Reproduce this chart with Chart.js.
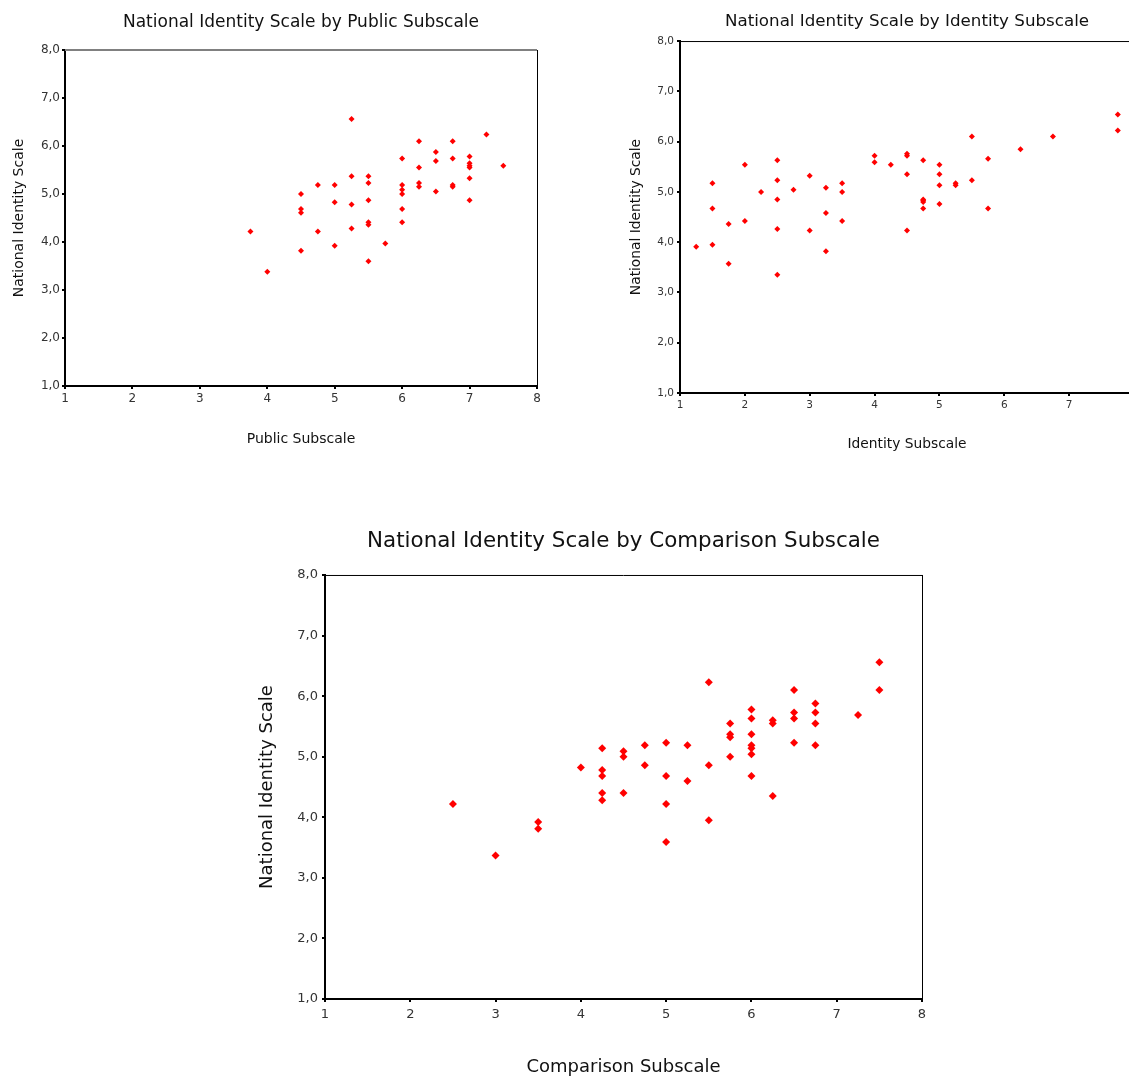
<!DOCTYPE html>
<html>
<head>
<meta charset="utf-8">
<script src="https://cdn.jsdelivr.net/npm/chart.js@4.4.1/dist/chart.umd.min.js"></script>
<style>
  html, body { margin:0; padding:0; background:#fff; overflow:hidden; width:1129px; height:1077px; }
  canvas { position:absolute; }
</style>
</head>
<body>
<canvas id="c1" width="580" height="470" style="left:0px;top:0px;"></canvas>
<canvas id="c2" width="540" height="470" style="left:620px;top:0px;"></canvas>
<canvas id="c3" width="700" height="580" style="left:250px;top:520px;"></canvas>
<script>
// ---------- data ----------
const yAxisTitle = "National Identity Scale";
const titles = [
  "National Identity Scale by Public Subscale",
  "National Identity Scale by Identity Subscale",
  "National Identity Scale by Comparison Subscale"
];
const xAxisTitles = ["Public Subscale", "Identity Subscale", "Comparison Subscale"];
const xTicks = [1, 2, 3, 4, 5, 6, 7, 8];
const yTicks = [1, 2, 3, 4, 5, 6, 7, 8];

const publicX = [3.75, 4, 4.5, 4.5, 4.5, 4.5, 4.75, 4.75, 5, 5, 5, 5.25, 5.25, 5.25, 5.25,
  5.5, 5.5, 5.5, 5.5, 5.5, 5.5, 5.75, 6, 6, 6, 6, 6, 6, 6.25, 6.25, 6.25, 6.25,
  6.5, 6.5, 6.5, 6.75, 6.75, 6.75, 6.75, 7, 7, 7, 7, 7, 7, 7.25, 7.5];
const publicY = [4.22, 3.38, 5.0, 4.69, 4.61, 3.82, 5.19, 4.22, 5.19, 4.83, 3.92, 6.56, 5.37, 4.78, 4.28,
  5.37, 5.23, 4.87, 4.41, 4.36, 3.60, 3.97, 5.74, 5.19, 5.09, 5.0, 4.69, 4.41, 6.10, 5.55, 5.23, 5.15,
  5.875, 5.69, 5.05, 6.10, 5.74, 5.19, 5.15, 5.78, 5.64, 5.59, 5.55, 5.33, 4.87, 6.24, 5.59];

const identityX = [1.25, 1.5, 1.5, 1.5, 1.75, 1.75, 2, 2, 2.25, 2.5, 2.5, 2.5, 2.5, 2.5,
  2.75, 3, 3, 3.25, 3.25, 3.25, 3.5, 3.5, 3.5, 4, 4, 4.25, 4.5, 4.5, 4.5, 4.5,
  4.75, 4.75, 4.75, 4.75, 4.75, 5, 5, 5, 5, 5.25, 5.25, 5.5, 5.5, 5.75, 5.75,
  6.25, 6.75, 7.75, 7.75];
const identityY = [3.91, 5.17, 4.67, 3.95, 4.36, 3.57, 5.54, 4.42, 5.0, 5.63, 5.23, 4.85, 4.26, 3.35,
  5.04, 5.32, 4.23, 5.08, 4.58, 3.82, 5.17, 5.0, 4.42, 5.72, 5.59, 5.54, 5.76, 5.72, 5.35, 4.23,
  5.63, 4.85, 4.83, 4.80, 4.67, 5.54, 5.35, 5.13, 4.76, 5.17, 5.13, 6.10, 5.23, 5.66, 4.67,
  5.85, 6.10, 6.54, 6.22];

const comparisonX = [2.5, 3, 3.5, 3.5, 4, 4.25, 4.25, 4.25, 4.25, 4.25, 4.5, 4.5, 4.5,
  4.75, 4.75, 5, 5, 5, 5, 5.25, 5.25, 5.5, 5.5, 5.5, 5.75, 5.75, 5.75, 5.75,
  6, 6, 6, 6, 6, 6, 6, 6.25, 6.25, 6.25, 6.5, 6.5, 6.5, 6.5, 6.75, 6.75, 6.75, 6.75,
  7.25, 7.5, 7.5];
const comparisonY = [4.22, 3.37, 3.92, 3.81, 4.82, 5.14, 4.78, 4.68, 4.40, 4.28, 5.09, 5.0, 4.40,
  5.19, 4.86, 5.23, 4.68, 4.22, 3.59, 5.19, 4.60, 6.23, 4.86, 3.95, 5.55, 5.37, 5.32, 5.0,
  5.78, 5.63, 5.37, 5.19, 5.14, 5.04, 4.68, 5.60, 5.55, 4.35, 6.10, 5.73, 5.63, 5.23, 5.88, 5.73, 5.55, 5.19,
  5.69, 6.56, 6.10];

// ---------- helpers ----------
const FONT = "'DejaVu Sans', Verdana, sans-serif";
const toPts = (xs, ys) => xs.map((x, i) => ({ x: x, y: ys[i] }));
const fmtY = v => v.toFixed(1).replace('.', ',');

const framePlugin = {
  id: 'frame',
  afterDraw(chart, args, opts) {
    const a = chart.chartArea, ctx = chart.ctx;
    ctx.save();
    ctx.lineWidth = opts.topWidth;
    ctx.strokeStyle = opts.topColor;
    ctx.beginPath();
    ctx.moveTo(a.left, a.top + (opts.topWidth % 2 ? 0.5 : 0));
    ctx.lineTo(a.right, a.top + (opts.topWidth % 2 ? 0.5 : 0));
    ctx.stroke();
    ctx.lineWidth = opts.rightWidth;
    ctx.strokeStyle = opts.rightColor;
    ctx.beginPath();
    ctx.moveTo(a.right + 0.5, a.top);
    ctx.lineTo(a.right + 0.5, a.bottom);
    ctx.stroke();
    ctx.restore();
  }
};

function makeChart(id, c) {
  return new Chart(document.getElementById(id), {
    type: 'scatter',
    data: {
      datasets: [{
        data: toPts(c.xs, c.ys),
        pointStyle: 'rectRot',
        pointRadius: c.r,
        pointHoverRadius: c.r,
        backgroundColor: '#ff0000',
        borderColor: '#ff0000',
        borderWidth: 0
      }]
    },
    options: {
      responsive: false,
      animation: false,
      devicePixelRatio: 1,
      layout: { padding: { left: 0, top: 0, right: c.padRight, bottom: 0 } },
      plugins: {
        legend: { display: false },
        tooltip: { enabled: false },
        title: {
          display: true,
          text: c.title,
          fullSize: false,
          color: '#111',
          font: { family: FONT, size: c.titleSize, weight: 'normal', lineHeight: 1.2 },
          padding: { top: c.titlePadTop, bottom: c.titlePadBottom }
        },
        frame: c.frame
      },
      scales: {
        x: {
          type: 'linear',
          min: 1, max: 8,
          afterBuildTicks: s => { s.ticks = xTicks.map(v => ({ value: v })); },
          afterFit: s => { s.height = c.xAxisH; },
          ticks: {
            color: '#333',
            padding: c.xTickPad,
            maxRotation: 0,
            font: { family: FONT, size: c.tickSize },
            callback: v => String(v)
          },
          grid: { display: true, drawOnChartArea: false, drawTicks: true, tickLength: 3, color: '#000', lineWidth: 2 },
          border: { display: true, color: '#000', width: 2 },
          title: {
            display: true,
            text: c.xTitle,
            color: '#111',
            font: { family: FONT, size: c.axTitleSize },
            padding: { top: 0, bottom: c.xTitlePad }
          }
        },
        y: {
          type: 'linear',
          min: 1, max: 8,
          afterBuildTicks: s => { s.ticks = yTicks.map(v => ({ value: v })); },
          afterFit: s => { s.width = c.yAxisW; },
          ticks: {
            color: '#333',
            padding: c.yTickPad,
            font: { family: FONT, size: c.tickSize },
            callback: v => fmtY(v)
          },
          grid: { display: true, drawOnChartArea: false, drawTicks: true, tickLength: 3, color: '#000', lineWidth: 2 },
          border: { display: true, color: '#000', width: 2 },
          title: {
            display: true,
            text: yAxisTitle,
            color: '#111',
            font: { family: FONT, size: c.axTitleSize },
            padding: { top: c.yTitlePad, bottom: 0 }
          }
        }
      }
    },
    plugins: [framePlugin]
  });
}

// Chart 1: plot area left 65, top 50, right 537, bottom 386
makeChart('c1', {
  xs: publicX, ys: publicY, r: 3,
  title: titles[0], titleSize: 17, titlePadTop: 12, titlePadBottom: 17.6,
  xTitle: xAxisTitles[0], axTitleSize: 14,
  padRight: 580 - 537,
  xAxisH: 470 - 386, yAxisW: 65,
  tickSize: 12, xTickPad: 3, yTickPad: 2,
  xTitlePad: 470 - 439 - 8.4, yTitlePad: 19 - 8.4,
  frame: { topColor: '#808080', topWidth: 2, rightColor: '#000', rightWidth: 1 }
});

// Chart 2: plot area left 680, top 41, right ~1134 (clipped), bottom 393
makeChart('c2', {
  xs: identityX, ys: identityY, r: 3,
  title: titles[1], titleSize: 16.7, titlePadTop: 12, titlePadBottom: 9,
  xTitle: xAxisTitles[1], axTitleSize: 13.8,
  padRight: 540 - 514,
  xAxisH: 470 - 393, yAxisW: 60,
  tickSize: 10.5, xTickPad: 3, yTickPad: 3,
  xTitlePad: 470 - 444 - 8.28, yTitlePad: 16 - 8.28,
  frame: { topColor: '#000', topWidth: 1, rightColor: '#000', rightWidth: 1 }
});

// Chart 3: plot area left 325, top 575, right 922, bottom 999
makeChart('c3', {
  xs: comparisonX, ys: comparisonY, r: 4,
  title: titles[2], titleSize: 21.4, titlePadTop: 8.15, titlePadBottom: 21.15,
  xTitle: xAxisTitles[2], axTitleSize: 18,
  padRight: 950 - 922,
  xAxisH: 1100 - 999, yAxisW: 75,
  tickSize: 13, xTickPad: 5, yTickPad: 4,
  xTitlePad: 1100 - 1067 - 10.8, yTitlePad: 17 - 10.8,
  frame: { topColor: '#000', topWidth: 1, rightColor: '#000', rightWidth: 1 }
});
</script>
</body>
</html>
